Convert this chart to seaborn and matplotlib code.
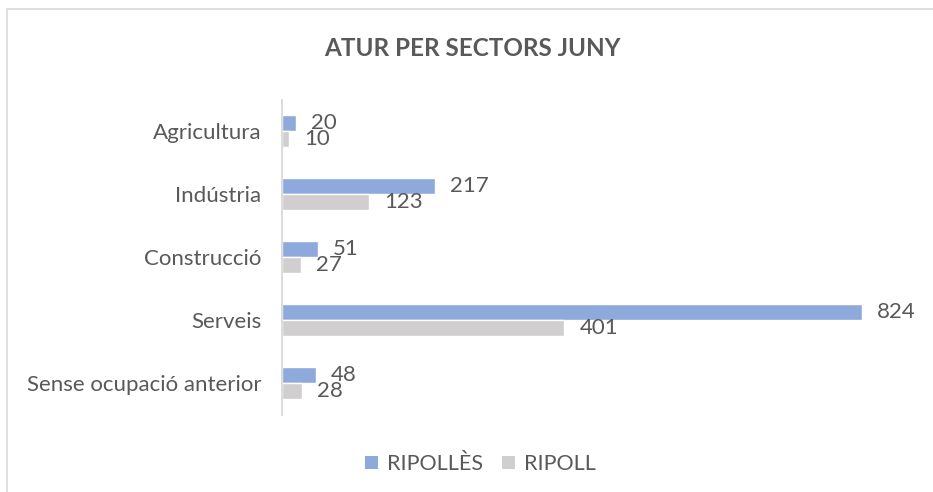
import pandas as pd
import seaborn as sns
import matplotlib.pyplot as plt
from matplotlib.patches import Rectangle, Patch

categories = ["Agricultura", "Indústria", "Construcció", "Serveis", "Sense ocupació anterior"]
ripolles = [20, 217, 51, 824, 48]
ripoll = [10, 123, 27, 401, 28]
series_names = ["RIPOLLÈS", "RIPOLL"]
colors = ["#8EA9DB", "#D0CECE"]
text_color = "#595959"

df = pd.DataFrame({
    "sector": categories * 2,
    "valor": ripolles + ripoll,
    "serie": [series_names[0]] * len(categories) + [series_names[1]] * len(categories),
})

sns.set_style("white")
plt.rcParams['font.family'] = ['Lato', 'DejaVu Sans']

fig = plt.figure(figsize=(9.33, 4.92), dpi=100)
ax = fig.add_axes([282 / 933, 1 - 414.5 / 492, (915 - 282) / 933, 315 / 492])

sns.barplot(data=df, x="valor", y="sector", hue="serie", orient="h",
            palette=colors, saturation=1, width=0.5, ax=ax, legend=False)

ax.set_xlim(0, 900)
ax.set_ylim(4.5, -0.5)
ax.set_xlabel("")
ax.set_ylabel("")
ax.set_xticks([])
ax.tick_params(axis='y', length=0, pad=15, labelsize=16, labelcolor=text_color)
for side in ['top', 'right', 'bottom']:
    ax.spines[side].set_visible(False)
ax.spines['left'].set_color("#D9D9D9")
ax.spines['left'].set_linewidth(1.3)

for container in ax.containers:
    ax.bar_label(container, padding=11, fontsize=16, color=text_color)

fig.text(0.506, 1 - 48 / 492, "ATUR PER SECTORS JUNY", ha='center', va='center',
         fontsize=17.5, fontweight='bold', color=text_color)

handles = [Patch(facecolor=c, edgecolor='none') for c in colors]
fig.legend(handles, series_names, loc='center', bbox_to_anchor=(0.515, 1 - 464 / 492),
           ncol=2, frameon=False, fontsize=15.5, labelcolor=text_color,
           handlelength=0.6, handleheight=0.6, handletextpad=0.4, columnspacing=0.9)

border = Rectangle((7.5 / 933, -0.1), 1.2, 1 - 8.5 / 492 + 0.1, transform=fig.transFigure,
                   fill=False, edgecolor="#D9D9D9", linewidth=1.2, clip_on=False)
fig.patches.append(border)

fig.savefig("out.png", dpi=100)
